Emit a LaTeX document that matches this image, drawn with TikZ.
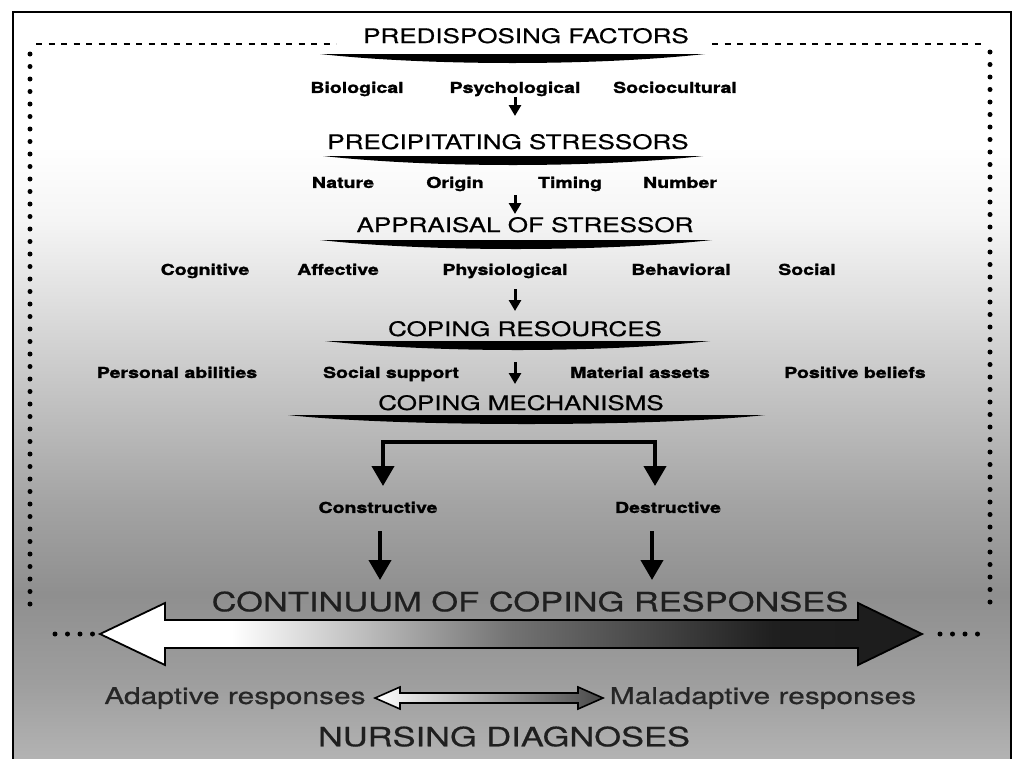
\documentclass[tikz,border=0pt]{standalone}
\usepackage{fontspec}
\setmainfont{TeX Gyre Heros}[FakeStretch=1.3, UprightFeatures={FakeBold=0.6}, BoldFeatures={FakeBold=1.6}]
\usetikzlibrary{arrows.meta}

% paper tone: white at the top, greying towards the bottom
\pgfdeclareverticalshading{paperfade}{100bp}{%
  color(0bp)=(black!30); color(25bp)=(black!30); color(30bp)=(black!38);
  color(36bp)=(black!44); color(42bp)=(black!36); color(49bp)=(black!24);
  color(56bp)=(black!12); color(61bp)=(black!4); color(66bp)=(white);
  color(100bp)=(white)}
% fill of the continuum arrow: light on the adaptive side, dark on the maladaptive side
\pgfdeclarehorizontalshading{contfade}{100bp}{%
  color(0bp)=(white); color(25bp)=(white); color(33bp)=(white);
  color(50bp)=(black!55); color(66bp)=(black!88); color(100bp)=(black!92)}

% brush-stroke underline below a heading: #1 left end, #2 right end, #3 top edge
\newcommand\brushline[3]{%
  \fill[black] (#1,#3) -- (#2,#3) .. controls (#2-110,#3+12) and (#1+110,#3+12) .. cycle;}

\begin{document}
\begin{tikzpicture}[x=1pt,y=-1pt,
  heading/.style={font=\fontsize{20}{22}\selectfont, inner sep=1pt,
    text height=14.4pt, text depth=0.4pt},
  factor/.style={font=\bfseries\fontsize{15}{17}\selectfont, inner sep=1pt,
    text height=10.8pt, text depth=3pt},
  bigtitle/.style={font=\fontsize{26.5}{28}\selectfont, text=black!88, inner sep=1pt,
    text height=19pt, text depth=0.5pt},
  resp/.style={font=\fontsize{23}{25}\selectfont, text=black!85, inner sep=1pt,
    text height=16.5pt, text depth=4.6pt},
  flow/.style={line width=3pt, -{Triangle[length=11pt,width=12pt]}},
  branch/.style={line width=4pt, -{Triangle[length=20pt,width=22pt]}},
  dotline/.style={line width=5pt, line cap=round, dash pattern=on 0pt off 12.5pt},
  dashline/.style={line width=2.8pt, dash pattern=on 6pt off 6.5pt},
]
\useasboundingbox (0,0) rectangle (1019,758);
\clip (0,0) rectangle (1019,758);
\fill[white] (0,0) rectangle (1019,758);
\shade[shading=paperfade] (13,12) rectangle (1011,758);

% outer frame (runs on past the lower edge)
\draw[line width=2pt] (13,790) -- (13,12) -- (1011,12) -- (1011,790);

% dotted inner frame
\draw[dashline] (36,44) -- (336,44);
\draw[dashline] (712,44) -- (985,44);
\draw[dotline] (30,54) -- (30,612);
\draw[dotline] (990,52) -- (990,612);
\draw[dotline] (55,634) -- (95,634);
\draw[dotline] (940,634) -- (982,634);

% predisposing factors
\node[heading] (predis) at (526,36) {PREDISPOSING FACTORS};
\brushline{320}{705}{54}
\node[factor] (bio)   at (357,89) {Biological};
\node[factor] (psy)   at (515,89) {Psychological};
\node[factor] (socio) at (675,89) {Sociocultural};
\coordinate (t1) at (515,116);
\draw[flow] (psy.south) -- (t1);

% precipitating stressors
\node[heading] (precip) at (508,142) {PRECIPITATING STRESSORS};
\brushline{323}{703}{156}
\node[factor] (nature) at (343,184) {Nature};
\node[factor] (origin) at (455,184) {Origin};
\node[factor] (timing) at (570,184) {Timing};
\node[factor] (number) at (680,184) {Number};
\coordinate (s2) at (515,195);
\coordinate (t2) at (515,214);
\draw[flow] (s2) -- (t2);

% appraisal of stressor
\node[heading] (apprais) at (525,225) {APPRAISAL OF STRESSOR};
\brushline{320}{712}{240}
\node[factor] (cog)    at (205,271) {Cognitive};
\node[factor] (aff)    at (338,271) {Affective};
\node[factor] (phys)   at (505,271) {Physiological};
\node[factor] (behav)  at (681,271) {Behavioral};
\node[factor] (social) at (807,271) {Social};
\coordinate (s3) at (515,289);
\coordinate (t3) at (515,311);
\draw[flow] (s3) -- (t3);

% coping resources
\node[heading] (cres) at (525,329) {COPING RESOURCES};
\brushline{325}{710}{341}
\node[factor] (pers) at (177,374) {Personal abilities};
\node[factor] (supp) at (391,374) {Social support};
\node[factor] (mat)  at (640,374) {Material assets};
\node[factor] (pos)  at (855,374) {Positive beliefs};
\coordinate (s4) at (515,362);
\coordinate (t4) at (515,384);
\draw[flow] (s4) -- (t4);

% coping mechanisms and their two branches
\node[heading] (cmech) at (521,403) {COPING MECHANISMS};
\brushline{288}{765}{415}
\coordinate (bl) at (383,442);
\coordinate (br) at (655,442);
\coordinate (ta) at (383,486);
\coordinate (tb) at (655,486);
\draw[line width=4pt, line cap=rect] (bl) -- (br);
\draw[branch] (bl) -- (ta);
\draw[branch] (br) -- (tb);
\node[factor] (cons) at (378,509) {Constructive};
\node[factor] (dest) at (668,509) {Destructive};
\coordinate (ca) at (380,531);
\coordinate (cb) at (380,580);
\coordinate (da) at (652,531);
\coordinate (db) at (652,580);
\draw[branch] (ca) -- (cb);
\draw[branch] (da) -- (db);

% continuum of coping responses
\node[bigtitle] (cont) at (530,602) {CONTINUUM OF COPING RESPONSES};
\shadedraw[shading=contfade, line width=1.8pt]
  (100,634) -- (165,603) -- (165,620) -- (858,620) -- (858,603) -- (922,634)
  -- (858,665) -- (858,648) -- (165,648) -- (165,665) -- cycle;

\node[resp] (adapt) at (235,698) {Adaptive responses};
\node[resp] (malad) at (763,698) {Maladaptive responses};
\shadedraw[left color=white, right color=black!72, line width=1.6pt]
  (375,698) -- (400,687) -- (400,693) -- (578,693) -- (578,687) -- (603,698)
  -- (578,709) -- (578,703) -- (400,703) -- (400,709) -- cycle;

\node[bigtitle] (nurse) at (504,737) {NURSING DIAGNOSES};
\end{tikzpicture}
\end{document}
